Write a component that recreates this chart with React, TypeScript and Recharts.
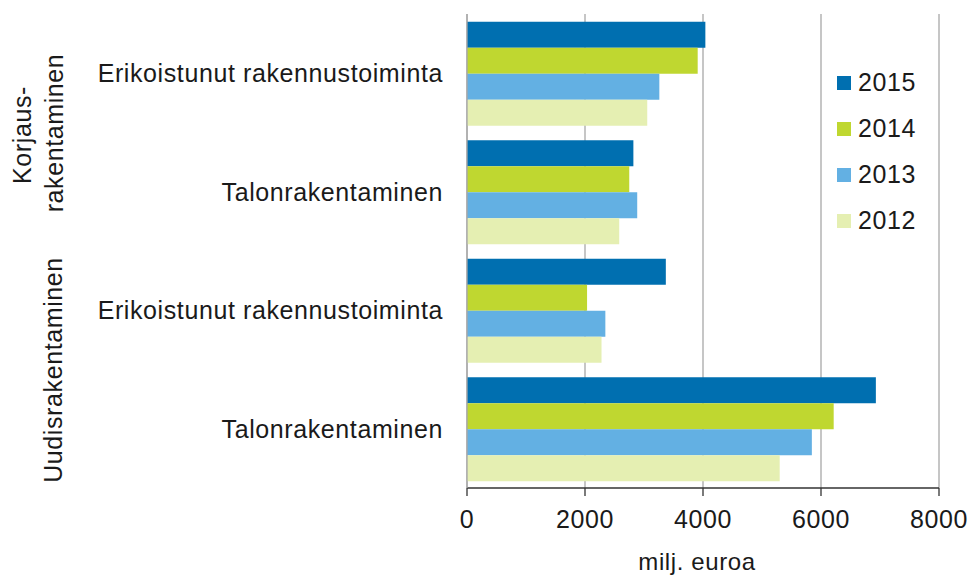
import React from "react";
import { BarChart, Bar, XAxis, YAxis, CartesianGrid } from "recharts";

const categories = [
  "Erikoistunut rakennustoiminta",
  "Talonrakentaminen",
  "Erikoistunut rakennustoiminta ",
  "Talonrakentaminen ",
];
const groupLabels = ["Korjaus-", "rakentaminen", "Uudisrakentaminen"];
const years = ["2015", "2014", "2013", "2012"];
const v2015 = [4040, 2820, 3370, 6930];
const v2014 = [3910, 2750, 2035, 6215];
const v2013 = [3260, 2885, 2345, 5845];
const v2012 = [3055, 2580, 2280, 5300];
const xTicks = [0, 2000, 4000, 6000, 8000];
const colors = ["#006fb0", "#bfd730", "#63b0e3", "#e5efb2"];
const xLabel = "milj. euroa";

const seriesValues = [v2015, v2014, v2013, v2012];
const data = categories.map((c, i) => {
  const row: Record<string, any> = { name: c };
  years.forEach((y, k) => {
    row[y] = seriesValues[k][i];
  });
  return row;
});

const FONT = "'Liberation Sans', Arial, sans-serif";
const TXT = "#1a1a1a";

const YTick = (props: any) => {
  const { x, y, payload } = props;
  return (
    <text
      x={x}
      y={y}
      textAnchor="end"
      dominantBaseline="central"
      fontFamily={FONT}
      fontSize={25}
      letterSpacing={0.6}
      fill={TXT}
    >
      {String(payload.value).trim()}
    </text>
  );
};

export default function App() {
  return (
    <div style={{ position: "absolute", left: 0, top: 0, width: 971, height: 575, background: "#fff" }}>
      <BarChart
        width={971}
        height={575}
        data={data}
        layout="vertical"
        margin={{ top: 14, right: 32, bottom: 0, left: 0 }}
        barCategoryGap={7.7}
        barGap={0}
      >
        <CartesianGrid horizontal={false} vertical={true} stroke="#a8a8a8" strokeWidth={1.3} />
        <XAxis
          type="number"
          domain={[0, 8000]}
          ticks={xTicks}
          height={87}
          axisLine={{ stroke: "#333", strokeWidth: 1.3 }}
          tickLine={{ stroke: "#333", strokeWidth: 1.3 }}
          tickSize={8}
          tickMargin={14}
          tick={{ fontFamily: FONT, fontSize: 25, fill: TXT, letterSpacing: 0.6 }}
          interval={0}
          label={{
            value: xLabel,
            position: "insideBottom",
            offset: 5,
            dx: -6,
            style: { fontFamily: FONT, fontSize: 24, fill: TXT, letterSpacing: 0.6 },
          }}
        />
        <YAxis
          type="category"
          dataKey="name"
          width={467}
          axisLine={{ stroke: "#a8a8a8", strokeWidth: 1.3 }}
          tickLine={false}
          tickSize={0}
          tickMargin={24}
          tick={<YTick />}
          interval={0}
        />
        {years.map((y, k) => (
          <Bar key={y} dataKey={y} fill={colors[k]} isAnimationActive={false} />
        ))}
      </BarChart>
      <div
        style={{
          position: "absolute",
          left: 837,
          top: 59.5,
          width: 100,
          fontFamily: FONT,
        }}
      >
        {years.map((y, k) => (
          <div key={y} style={{ height: 46, display: "flex", alignItems: "center" }}>
            <div style={{ width: 14, height: 14, background: colors[k], marginRight: 7 }} />
            <span style={{ fontSize: 25, letterSpacing: 0.6, color: TXT, lineHeight: "25px" }}>{y}</span>
          </div>
        ))}
      </div>
      <svg
        width={971}
        height={575}
        style={{ position: "absolute", left: 0, top: 0, pointerEvents: "none" }}
      >
        <g fontFamily={FONT} fontSize={25} letterSpacing={0.6} fill={TXT} textAnchor="middle">
          <text transform="translate(31,135) rotate(-90)">{groupLabels[0]}</text>
          <text transform="translate(63,133) rotate(-90)">{groupLabels[1]}</text>
          <text transform="translate(62,370) rotate(-90)">{groupLabels[2]}</text>
        </g>
      </svg>
    </div>
  );
}
